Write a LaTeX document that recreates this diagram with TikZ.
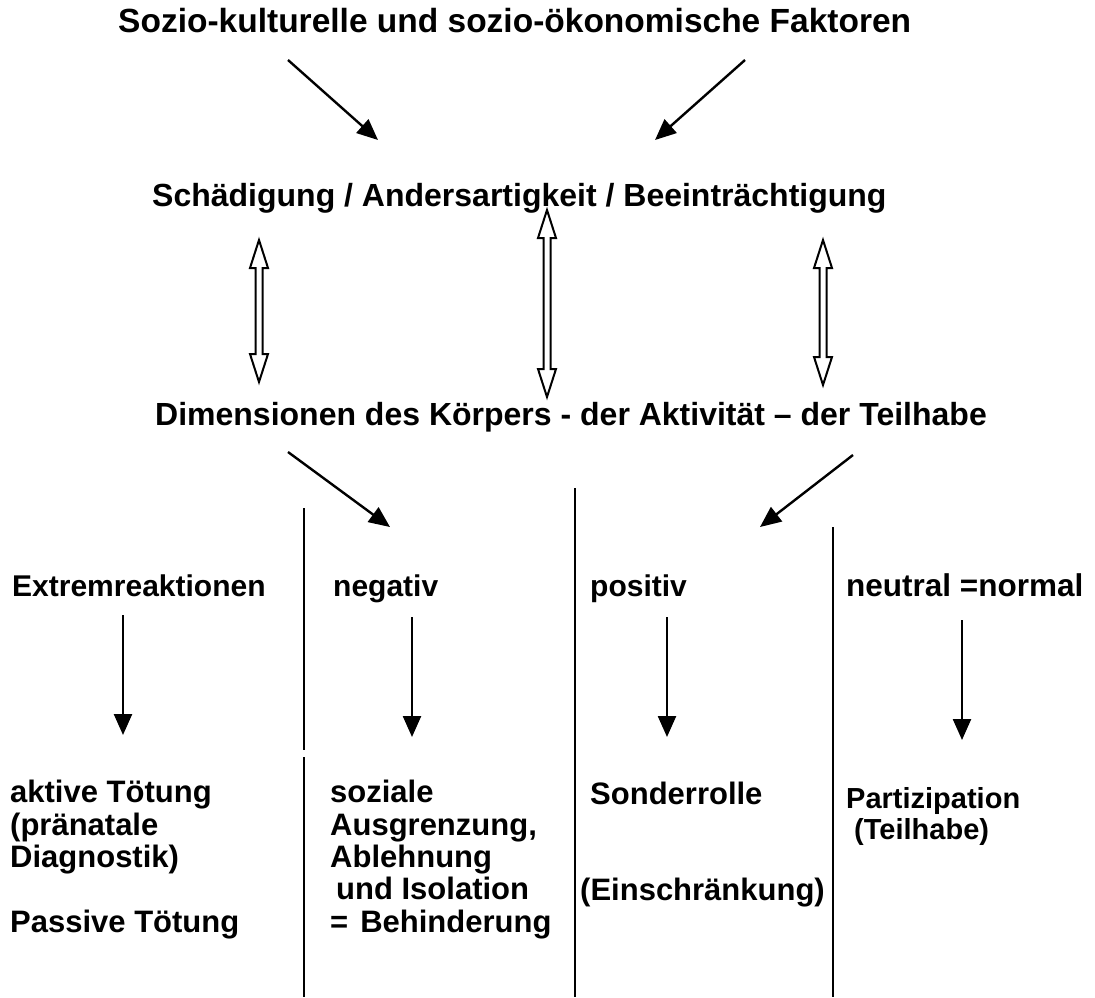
\documentclass[tikz,border=0pt]{standalone}
\usepackage{fontspec}
\setmainfont{Liberation Sans}
\usetikzlibrary{positioning}
\usetikzlibrary{arrows.meta}
\usetikzlibrary{calc}

\tikzset{
    txt/.style={font=\fontsize{32}{32}\selectfont\bfseries, inner sep=0pt, anchor=base west, align=left},
    spalte/.style={txt, font=\fontsize{31}{32.3}\selectfont\bfseries},
    kopf/.style={txt, font=\fontsize{30}{32}\selectfont\bfseries},
    pfeil/.style={line width=2.4pt, -{Triangle[length=21pt,width=18pt]}},
    trenn/.style={line width=2.6pt},
    doppel/.style={line width=2pt, line join=miter, to path={
        let \p1=(\tikztostart), \p2=(\tikztotarget) in
        (\x1,\y1) -- (\x1+9pt,\y1-28pt) -- (\x1+3.5pt,\y1-28pt) -- (\x1+3.5pt,\y2+28pt)
        -- (\x1+9pt,\y2+28pt) -- (\x1,\y2) -- (\x1-9pt,\y2+28pt) -- (\x1-3.5pt,\y2+28pt)
        -- (\x1-3.5pt,\y1-28pt) -- (\x1-9pt,\y1-28pt) -- cycle}}
}

\begin{document}
\begin{tikzpicture}[x=1pt,y=-1pt]
    \useasboundingbox (0,0) rectangle (1095,997);
    %% Kopfzeilen
    \node[txt, font=\fontsize{33.5}{34}\selectfont\bfseries] (fak) at (118,32) {Sozio-kulturelle und sozio-ökonomische Faktoren};
    \node[txt] (sch) at (152,206) {Schädigung / Andersartigkeit / Beeinträchtigung};
    \node[txt] (dim) at (155,425) {Dimensionen des Körpers - der Aktivität – der Teilhabe};
    % Spaltenköpfe
    \node[kopf] (ext) at (12,596) {Extremreaktionen};
    \node[kopf] (neg) at (333,596) {negativ};
    \node[kopf] (pos) at (590,596) {positiv};
    \node[kopf, font=\fontsize{31.5}{32}\selectfont\bfseries] (neu) at (846,596) {neutral =normal};
    % Folgen (Grundlinie der letzten Zeile)
    \node[spalte] (toe) at (10,932) {aktive Tötung\\(pränatale\\Diagnostik)\\[32.3pt]Passive Tötung};
    \node[spalte] (aus) at (330,932) {soziale\\Ausgrenzung,\\Ablehnung\\\hspace{6pt}und Isolation\\=\hspace{12pt}Behinderung};
    \node[spalte] (son) at (590,804) {Sonderrolle};
    \node[spalte] (ein) at (580,900) {(Einschränkung)};
    \node[spalte, font=\fontsize{29}{30}\selectfont\bfseries] (par) at (846,808) {Partizipation};
    \node[spalte, font=\fontsize{29}{30}\selectfont\bfseries] (tei) at (854,839) {(Teilhabe)};

    %% Pfeilenden
    \coordinate (a1) at (288,60);   \coordinate (a2) at (378,140);
    \coordinate (b1) at (745,60);   \coordinate (b2) at (655,140);
    \coordinate (c1) at (288,452);  \coordinate (c2) at (390,527);
    \coordinate (e1) at (853,455);  \coordinate (e2) at (760,527);
    \coordinate (d1o) at (259,240); \coordinate (d1u) at (259,382);
    \coordinate (d2o) at (547,210); \coordinate (d2u) at (547,397);
    \coordinate (d3o) at (823,240); \coordinate (d3u) at (823,385);
    \draw[pfeil] (a1) -- (a2);
    \draw[pfeil] (b1) -- (b2);
    \draw[pfeil] (c1) -- (c2);
    \draw[pfeil] (e1) -- (e2);
    \draw[doppel] (d1o) to (d1u);
    \draw[doppel] (d2o) to (d2u);
    \draw[doppel] (d3o) to (d3u);

    % senkrechte Pfeile in den Spalten
    \foreach \n/\x/\y in {1/123/615,2/412/617,3/667/617,4/962/620}{
        \coordinate (o\n) at (\x,\y);
        \coordinate (u\n) at (\x,\y+120);
        \draw[pfeil] (o\n) -- (u\n);
    }

    % Trennlinien
    \coordinate (t1o) at (304,508); \coordinate (t1m) at (304,750);
    \coordinate (t1n) at (304,757); \coordinate (t1u) at (304,997);
    \coordinate (t2o) at (575,488); \coordinate (t2u) at (575,997);
    \coordinate (t3o) at (833,527); \coordinate (t3u) at (833,997);
    \draw[trenn] (t1o) -- (t1m) (t1n) -- (t1u);
    \draw[trenn] (t2o) -- (t2u);
    \draw[trenn] (t3o) -- (t3u);
\end{tikzpicture}
\end{document}
